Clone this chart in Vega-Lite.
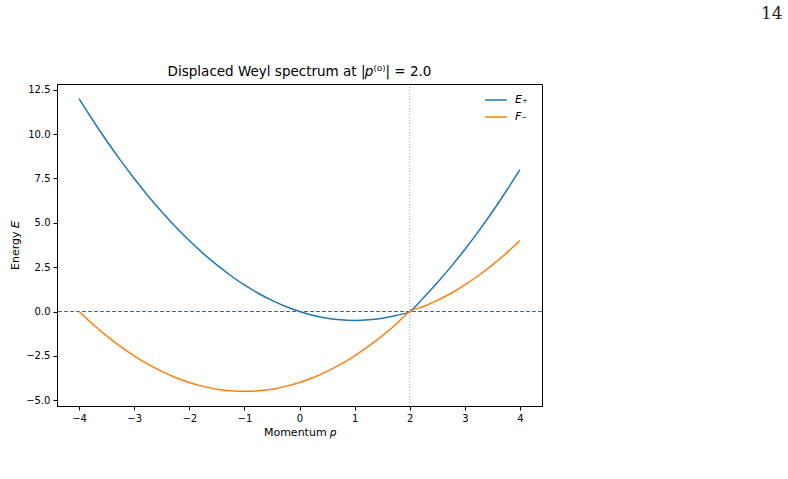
{
  "$schema": "https://vega.github.io/schema/vega-lite/v6.json",
  "autosize": {"type": "none"},
  "width": 485,
  "height": 322,
  "padding": {"left": 57, "top": 84, "right": 246, "bottom": 73},
  "background": "white",
  "title": {
    "text": "Displaced Weyl spectrum at |𝑝⁽⁰⁾| = 2.0",
    "font": "DejaVu Sans",
    "fontSize": 13.5,
    "fontWeight": "normal",
    "color": "black",
    "offset": -73
  },
  "datasets": {
    "curves": [
      {"p": -4, "E": 12, "s": "E₊"},
      {"p": -3.75, "E": 10.78125, "s": "E₊"},
      {"p": -3.5, "E": 9.625, "s": "E₊"},
      {"p": -3.25, "E": 8.53125, "s": "E₊"},
      {"p": -3, "E": 7.5, "s": "E₊"},
      {"p": -2.75, "E": 6.53125, "s": "E₊"},
      {"p": -2.5, "E": 5.625, "s": "E₊"},
      {"p": -2.25, "E": 4.78125, "s": "E₊"},
      {"p": -2, "E": 4, "s": "E₊"},
      {"p": -1.75, "E": 3.28125, "s": "E₊"},
      {"p": -1.5, "E": 2.625, "s": "E₊"},
      {"p": -1.25, "E": 2.03125, "s": "E₊"},
      {"p": -1, "E": 1.5, "s": "E₊"},
      {"p": -0.75, "E": 1.03125, "s": "E₊"},
      {"p": -0.5, "E": 0.625, "s": "E₊"},
      {"p": -0.25, "E": 0.28125, "s": "E₊"},
      {"p": 0, "E": 0, "s": "E₊"},
      {"p": 0.25, "E": -0.21875, "s": "E₊"},
      {"p": 0.5, "E": -0.375, "s": "E₊"},
      {"p": 0.75, "E": -0.46875, "s": "E₊"},
      {"p": 1, "E": -0.5, "s": "E₊"},
      {"p": 1.25, "E": -0.46875, "s": "E₊"},
      {"p": 1.5, "E": -0.375, "s": "E₊"},
      {"p": 1.75, "E": -0.21875, "s": "E₊"},
      {"p": 2, "E": 0, "s": "E₊"},
      {"p": 2.25, "E": 0.78125, "s": "E₊"},
      {"p": 2.5, "E": 1.625, "s": "E₊"},
      {"p": 2.75, "E": 2.53125, "s": "E₊"},
      {"p": 3, "E": 3.5, "s": "E₊"},
      {"p": 3.25, "E": 4.53125, "s": "E₊"},
      {"p": 3.5, "E": 5.625, "s": "E₊"},
      {"p": 3.75, "E": 6.78125, "s": "E₊"},
      {"p": 4, "E": 8, "s": "E₊"},
      {"p": -4, "E": 0, "s": "F₋"},
      {"p": -3.75, "E": -0.71875, "s": "F₋"},
      {"p": -3.5, "E": -1.375, "s": "F₋"},
      {"p": -3.25, "E": -1.96875, "s": "F₋"},
      {"p": -3, "E": -2.5, "s": "F₋"},
      {"p": -2.75, "E": -2.96875, "s": "F₋"},
      {"p": -2.5, "E": -3.375, "s": "F₋"},
      {"p": -2.25, "E": -3.71875, "s": "F₋"},
      {"p": -2, "E": -4, "s": "F₋"},
      {"p": -1.75, "E": -4.21875, "s": "F₋"},
      {"p": -1.5, "E": -4.375, "s": "F₋"},
      {"p": -1.25, "E": -4.46875, "s": "F₋"},
      {"p": -1, "E": -4.5, "s": "F₋"},
      {"p": -0.75, "E": -4.46875, "s": "F₋"},
      {"p": -0.5, "E": -4.375, "s": "F₋"},
      {"p": -0.25, "E": -4.21875, "s": "F₋"},
      {"p": 0, "E": -4, "s": "F₋"},
      {"p": 0.25, "E": -3.71875, "s": "F₋"},
      {"p": 0.5, "E": -3.375, "s": "F₋"},
      {"p": 0.75, "E": -2.96875, "s": "F₋"},
      {"p": 1, "E": -2.5, "s": "F₋"},
      {"p": 1.25, "E": -1.96875, "s": "F₋"},
      {"p": 1.5, "E": -1.375, "s": "F₋"},
      {"p": 1.75, "E": -0.71875, "s": "F₋"},
      {"p": 2, "E": 0, "s": "F₋"},
      {"p": 2.25, "E": 0.28125, "s": "F₋"},
      {"p": 2.5, "E": 0.625, "s": "F₋"},
      {"p": 2.75, "E": 1.03125, "s": "F₋"},
      {"p": 3, "E": 1.5, "s": "F₋"},
      {"p": 3.25, "E": 2.03125, "s": "F₋"},
      {"p": 3.5, "E": 2.625, "s": "F₋"},
      {"p": 3.75, "E": 3.28125, "s": "F₋"},
      {"p": 4, "E": 4, "s": "F₋"}
    ],
    "page": [{"p": 8.57, "E": 16.77, "label": "14"}],
    "refs": [{"p0": 2, "E0": 0}]
  },
  "layer": [
    {
      "data": {"name": "refs"},
      "mark": {"type": "rule", "color": "#3d6890", "strokeWidth": 1, "strokeDash": [4, 2]},
      "encoding": {"y": {"field": "E0", "type": "quantitative"}}
    },
    {
      "data": {"name": "refs"},
      "mark": {"type": "rule", "color": "#1f77b4", "opacity": 0.65, "strokeWidth": 1, "strokeDash": [1, 2]},
      "encoding": {"x": {"field": "p0", "type": "quantitative"}}
    },
    {
      "data": {"name": "curves"},
      "mark": {"type": "line", "strokeWidth": 1.5, "interpolate": "monotone"},
      "encoding": {
        "x": {
          "field": "p",
          "type": "quantitative",
          "scale": {"domain": [-4.4, 4.4], "nice": false, "zero": false},
          "axis": {"values": [-4, -3, -2, -1, 0, 1, 2, 3, 4], "format": "d", "title": "Momentum 𝑝"}
        },
        "y": {
          "field": "E",
          "type": "quantitative",
          "scale": {"domain": [-5.325, 12.825], "nice": false, "zero": false},
          "axis": {"values": [-5, -2.5, 0, 2.5, 5, 7.5, 10, 12.5], "format": ".1f", "title": "Energy 𝐸"}
        },
        "color": {
          "field": "s",
          "type": "nominal",
          "scale": {"domain": ["E₊", "F₋"], "range": ["#1f77b4", "#ff7f0e"]},
          "legend": {
            "title": null,
            "orient": "none",
            "legendX": 427,
            "legendY": 4,
            "symbolType": "stroke",
            "symbolSize": 484,
            "symbolStrokeWidth": 1.5,
            "labelFont": "DejaVu Sans",
            "labelFontSize": 11,
            "labelFontStyle": "italic",
            "labelColor": "black",
            "rowPadding": -5,
            "labelOffset": 7
          }
        }
      }
    },
    {
      "data": {"name": "page"},
      "mark": {"type": "text", "font": "DejaVu Serif", "fontSize": 17, "color": "#222", "baseline": "middle", "align": "center"},
      "encoding": {
        "x": {"field": "p", "type": "quantitative"},
        "y": {"field": "E", "type": "quantitative"},
        "text": {"field": "label"}
      }
    }
  ],
  "config": {
    "view": {"stroke": "black", "strokeWidth": 1},
    "font": "DejaVu Sans",
    "axis": {
      "grid": false,
      "domainColor": "black",
      "domainWidth": 1,
      "tickColor": "black",
      "tickSize": 4,
      "tickWidth": 1,
      "labelColor": "black",
      "labelFont": "DejaVu Sans",
      "labelFontSize": 10,
      "labelPadding": 3,
      "titleFont": "DejaVu Sans",
      "titleFontSize": 11,
      "titleFontWeight": "normal",
      "titleColor": "black"
    },
    "axisX": {"titlePadding": 3},
    "axisY": {"titlePadding": 5}
  }
}
